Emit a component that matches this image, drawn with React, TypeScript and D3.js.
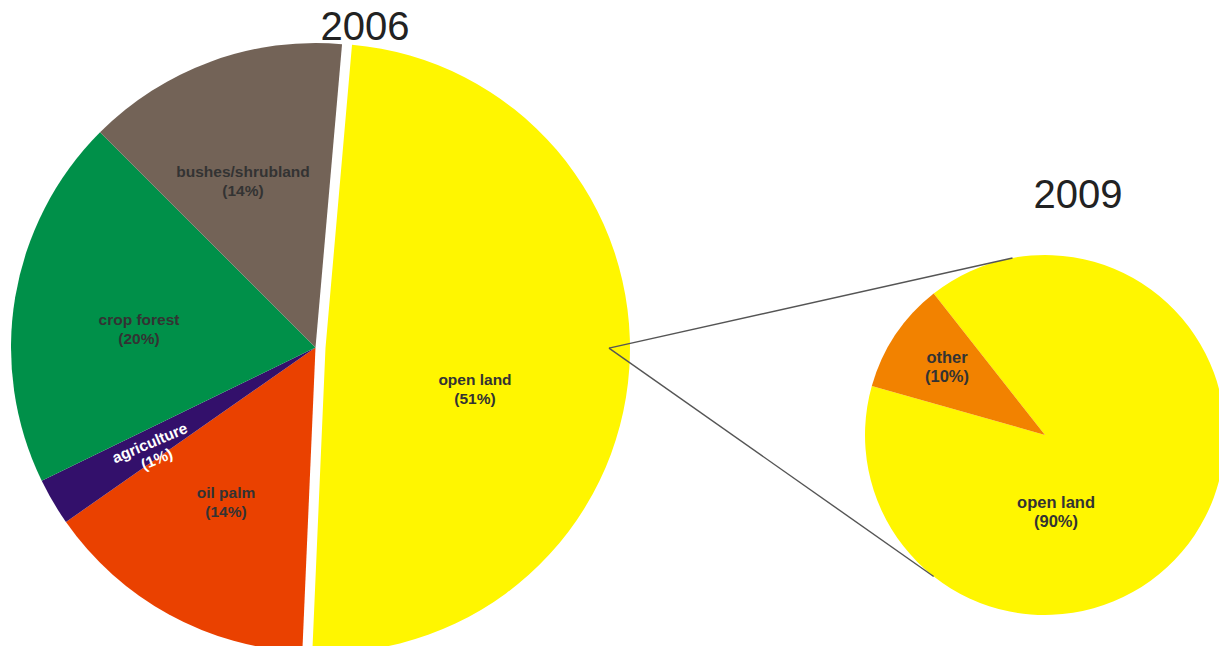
import React from "react";
import * as d3 from "d3";

// ---- data ----
const bigCategories = ["open land", "oil palm", "agriculture", "crop forest", "bushes/shrubland"];
const bigValues = [49.3, 14.6, 2.5, 19.7, 13.9];
const bigPctLabels = ["(51%)", "(14%)", "(1%)", "(20%)", "(14%)"];
const bigColors = ["#FFF600", "#EA4100", "#33106B", "#009049", "#736357"];

const smallCategories = ["open land", "other"];
const smallValues = [90, 10];
const smallPctLabels = ["(90%)", "(10%)"];
const smallColors = ["#FFF600", "#F28200"];

const titles = ["2006", "2009"];

// ---- layout ----
const W = 1219;
const H = 646;
const deg = Math.PI / 180;
const big = { cx: 315.5, cy: 347.5, r: 304.5, start: 5, explode: 10 };
const small = { cx: 1045, cy: 435, r: 180, start: 321.8 };
// label anchors as offsets from (exploded) slice centre
const bigLabelOffsets = [
  [149.5, 46],
  [-89.5, 159.5],
  [-162, 104],
  [-176.5, -13.5],
  [-72.5, -161.5],
];
const smallLabelOffsets = [
  [11, 81.5],
  [-98, -63],
];
const connectorAngles = [349.6, 218.2];

const polar = (a: number, r: number) => [Math.sin(a) * r, -Math.cos(a) * r];

export default function App() {
  const bigPie = d3
    .pie<number>()
    .sort(null)
    .value((d) => d)
    .startAngle(big.start * deg)
    .endAngle((big.start + 360) * deg)(bigValues);
  const smallPie = d3
    .pie<number>()
    .sort(null)
    .value((d) => d)
    .startAngle(small.start * deg)
    .endAngle((small.start + 360) * deg)(smallValues);

  const bigArc = d3.arc<d3.PieArcDatum<number>>().innerRadius(0).outerRadius(big.r);
  const smallArc = d3.arc<d3.PieArcDatum<number>>().innerRadius(0).outerRadius(small.r);

  const yellow = bigPie[0];
  const mid = (yellow.startAngle + yellow.endAngle) / 2;
  const [ex, ey] = polar(mid, big.explode);
  const yc = [big.cx + ex, big.cy + ey];

  const [vx, vy] = polar(90 * deg, 283.5);
  const vertex = [yc[0] + vx, yc[1] + vy];
  const ends = connectorAngles.map((a) => {
    const [px, py] = polar(a * deg, small.r);
    return [small.cx + px, small.cy + py];
  });

  const font = "'Liberation Sans', Arial, sans-serif";

  return (
    <svg
      width={W}
      height={H}
      style={{ position: "fixed", left: 0, top: 0, background: "#fff" }}
      fontFamily={font}
    >
      {bigPie.map((d, i) => {
        const off = i === 0 ? [ex, ey] : [0, 0];
        return (
          <path
            key={bigCategories[i]}
            d={bigArc(d) || ""}
            fill={bigColors[i]}
            transform={`translate(${big.cx + off[0]},${big.cy + off[1]})`}
          />
        );
      })}
      {smallPie.map((d, i) => (
        <path
          key={smallCategories[i]}
          d={smallArc(d) || ""}
          fill={smallColors[i]}
          transform={`translate(${small.cx},${small.cy})`}
        />
      ))}
      {ends.map((e, i) => (
        <line
          key={i}
          x1={vertex[0]}
          y1={vertex[1]}
          x2={e[0]}
          y2={e[1]}
          stroke="#555"
          strokeWidth={1.4}
        />
      ))}
      {bigCategories.map((c, i) => {
        const base = i === 0 ? yc : [big.cx, big.cy];
        const x = base[0] + bigLabelOffsets[i][0];
        const y = base[1] + bigLabelOffsets[i][1];
        const isAgri = c === "agriculture";
        return (
          <g
            key={c}
            transform={`translate(${x},${y})${isAgri ? " rotate(-23)" : ""}`}
            fontSize={15.5}
            fontWeight="bold"
            textAnchor="middle"
            fill={isAgri ? "#fff" : "#333"}
          >
            <text x={0} y={isAgri ? -4 : -9.5}>{c}</text>
            <text x={0} y={isAgri ? 13.5 : 9.5}>{bigPctLabels[i]}</text>
          </g>
        );
      })}
      {smallCategories.map((c, i) => {
        const x = small.cx + smallLabelOffsets[i][0];
        const y = small.cy + smallLabelOffsets[i][1];
        return (
          <g
            key={c}
            transform={`translate(${x},${y})`}
            fontSize={16.5}
            fontWeight="bold"
            textAnchor="middle"
            fill="#333"
          >
            <text x={0} y={-9}>{c}</text>
            <text x={0} y={10}>{smallPctLabels[i]}</text>
          </g>
        );
      })}
      <text x={365} y={40} fontSize={40} textAnchor="middle" fill="#222">
        {titles[0]}
      </text>
      <text x={1078} y={208} fontSize={40} textAnchor="middle" fill="#222">
        {titles[1]}
      </text>
    </svg>
  );
}
